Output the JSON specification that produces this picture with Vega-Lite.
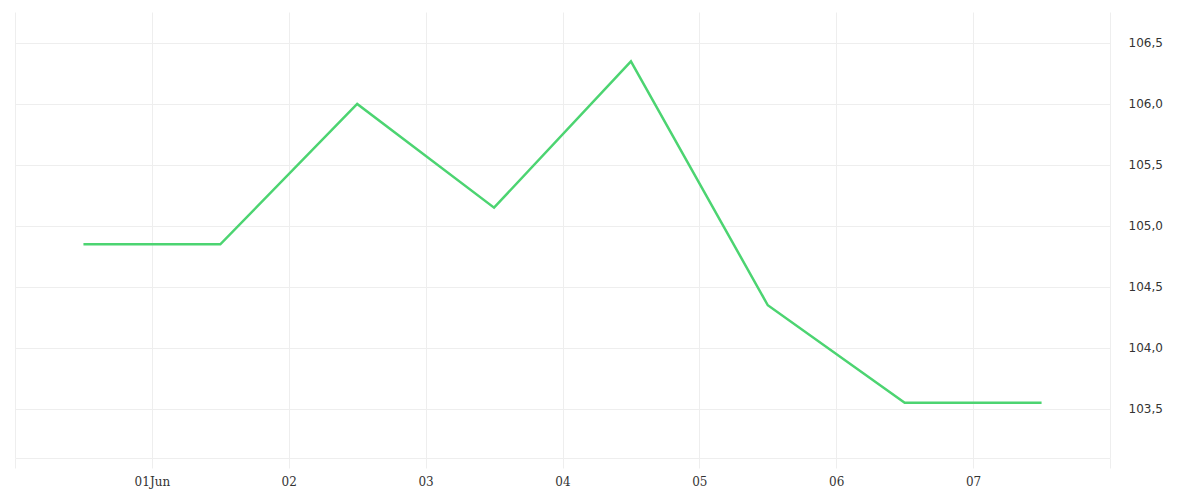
{
  "$schema": "https://vega.github.io/schema/vega-lite/v6.json",
  "autosize": "none",
  "padding": {"left": 15, "top": 12, "right": 90, "bottom": 42},
  "width": 1095,
  "height": 446,
  "config": {"view": {"stroke": null}, "background": "white"},
  "data": {"values": [
    {"t": "2024-05-31T12:00:00Z", "v": 104.85},
    {"t": "2024-06-01T12:00:00Z", "v": 104.85},
    {"t": "2024-06-02T12:00:00Z", "v": 106.0},
    {"t": "2024-06-03T12:00:00Z", "v": 105.15},
    {"t": "2024-06-04T12:00:00Z", "v": 106.35},
    {"t": "2024-06-05T12:00:00Z", "v": 104.35},
    {"t": "2024-06-06T12:00:00Z", "v": 103.55},
    {"t": "2024-06-07T12:00:00Z", "v": 103.55}
  ]},
  "mark": {"type": "line", "color": "#4cd471", "strokeWidth": 2.5},
  "encoding": {
    "x": {
      "field": "t", "type": "temporal",
      "scale": {"type": "utc", "domain": ["2024-05-31T00:00:00Z", "2024-06-08T00:00:00Z"]},
      "axis": {
        "title": null,
        "values": ["2024-05-31T00:00:00Z", "2024-06-01T00:00:00Z", "2024-06-02T00:00:00Z", "2024-06-03T00:00:00Z", "2024-06-04T00:00:00Z", "2024-06-05T00:00:00Z", "2024-06-06T00:00:00Z", "2024-06-07T00:00:00Z", "2024-06-08T00:00:00Z"],
        "labelExpr": "utcdate(datum.value) == 31 || utcdate(datum.value) == 8 ? '' : (utcdate(datum.value) == 1 ? '01Jun' : utcFormat(datum.value, '%d'))",
        "grid": true, "gridColor": "#eeeeee",
        "domainColor": "#eeeeee",
        "tickColor": "#eeeeee", "tickSize": 10,
        "labelFont": "DejaVu Serif", "labelFontSize": 12, "labelColor": "#333333",
        "labelPadding": 8, "labelFlush": false, "labelOverlap": false
      }
    },
    "y": {
      "field": "v", "type": "quantitative",
      "scale": {"domain": [103.098, 106.754], "zero": false, "nice": false},
      "axis": {
        "title": null, "orient": "right",
        "values": [103.5, 104.0, 104.5, 105.0, 105.5, 106.0, 106.5],
        "labelExpr": "replace(format(datum.value, '.1f'), '.', ',')",
        "grid": true, "gridColor": "#eeeeee",
        "domain": false, "ticks": false,
        "labelFont": "DejaVu Sans", "labelFontSize": 12, "labelColor": "#333333",
        "labelPadding": 18
      }
    }
  }
}
